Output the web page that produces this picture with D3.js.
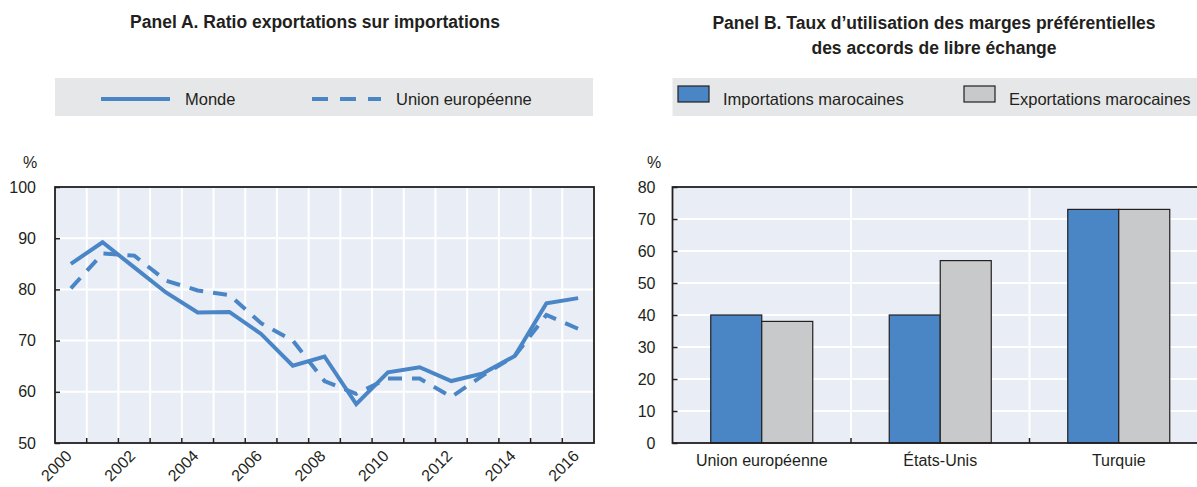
<!DOCTYPE html>
<html>
<head>
<meta charset="utf-8">
<script src="https://cdn.jsdelivr.net/npm/d3@7"></script>
<style>
  body { margin: 0; background: #fff; }
  svg { display: block; }
</style>
</head>
<body>
<svg id="chart" width="1197" height="487"></svg>
<script>
// Panel A data: ratio exports / imports (%)
const years = d3.range(2000, 2017);
const monde = [85.0, 89.2, 84.3, 79.4, 75.5, 75.6, 71.3, 65.1, 66.9, 57.6, 63.8, 64.8, 62.1, 63.6, 67.0, 77.3, 78.3];
const unionEuropeenne = [80.2, 87.0, 86.6, 81.7, 79.8, 78.9, 73.4, 70.0, 62.1, 59.6, 62.6, 62.6, 59.0, 63.2, 67.0, 75.0, 72.3];
const yTicksA = [50, 60, 70, 80, 90, 100];

// Panel B data: utilisation rate of preferential margins (%)
const partners = ["Union européenne", "États-Unis", "Turquie"];
const importations = [40, 40, 73];
const exportations = [38, 57, 73];
const yTicksB = [0, 10, 20, 30, 40, 50, 60, 70, 80];

const FONT = "'Liberation Sans', Arial, sans-serif";
const BLUE = "#4a86c6";
const GREY = "#c8c9cb";
const PLOT_BG = "#e9edf5";
const LEGEND_BG = "#e6e7e9";
const INK = "#231f20";
const TICK_FS = "16px";

const svg = d3.select("#chart").style("font-family", FONT);

// ---------- Panel A ----------
const A = { left: 55, right: 594, top: 187, bottom: 443 };

svg.append("text")
  .attr("x", 315).attr("y", 28)
  .attr("text-anchor", "middle")
  .attr("font-weight", "bold").attr("font-size", "17.5px").attr("fill", INK)
  .text("Panel A. Ratio exportations sur importations");

svg.append("rect")
  .attr("x", A.left).attr("y", 78).attr("width", A.right - A.left - 1).attr("height", 38)
  .attr("fill", LEGEND_BG);

const legendA = [
  { name: "Monde", x: 101, dash: null },
  { name: "Union européenne", x: 312, dash: "16,12" }
];
legendA.forEach(d => {
  svg.append("line")
    .attr("x1", d.x).attr("x2", d.x + 69).attr("y1", 99).attr("y2", 99)
    .attr("stroke", BLUE).attr("stroke-width", 4)
    .attr("stroke-dasharray", d.dash);
  svg.append("text")
    .attr("x", d.x + 84).attr("y", 105)
    .attr("font-size", "16.5px").attr("fill", INK)
    .text(d.name);
});

const xA = d3.scaleBand().domain(years).range([A.left, A.right]);
const yA = d3.scaleLinear().domain([50, 100]).range([A.bottom, A.top]);

const gA = svg.append("g");
gA.append("rect")
  .attr("x", A.left).attr("y", A.top)
  .attr("width", A.right - A.left).attr("height", A.bottom - A.top)
  .attr("fill", PLOT_BG);

gA.selectAll("line.hgrid")
  .data(yTicksA.slice(1, -1))
  .join("line").attr("class", "hgrid")
  .attr("x1", A.left).attr("x2", A.right)
  .attr("y1", d => yA(d)).attr("y2", d => yA(d))
  .attr("stroke", "#fff").attr("stroke-width", 2);

gA.selectAll("line.vgrid")
  .data(years.slice(1))
  .join("line").attr("class", "vgrid")
  .attr("x1", d => xA(d)).attr("x2", d => xA(d))
  .attr("y1", A.top).attr("y2", A.bottom)
  .attr("stroke", "#fff").attr("stroke-width", 2);

// inward tick marks at band boundaries
gA.selectAll("line.xtick")
  .data(years.slice(1))
  .join("line").attr("class", "xtick")
  .attr("x1", d => xA(d)).attr("x2", d => xA(d))
  .attr("y1", A.bottom - 5).attr("y2", A.bottom)
  .attr("stroke", INK).attr("stroke-width", 1.5);

const line = d3.line()
  .x((d, i) => xA(years[i]) + xA.bandwidth() / 2)
  .y(d => yA(d));

gA.append("path").datum(unionEuropeenne)
  .attr("d", line).attr("fill", "none")
  .attr("stroke", BLUE).attr("stroke-width", 4)
  .attr("stroke-dasharray", "14,10");

gA.append("path").datum(monde)
  .attr("d", line).attr("fill", "none")
  .attr("stroke", BLUE).attr("stroke-width", 4)
  .attr("stroke-linejoin", "miter");

const yAxisA = gA.append("g")
  .attr("transform", `translate(${A.left},0)`)
  .call(d3.axisLeft(yA).tickValues(yTicksA).tickSize(-5).tickPadding(19));
yAxisA.select(".domain").remove();
yAxisA.selectAll("line").attr("stroke", INK).attr("stroke-width", 1.5);
yAxisA.selectAll("text").attr("font-size", TICK_FS).attr("fill", INK).attr("font-family", FONT);

gA.selectAll("text.year")
  .data(years.filter(y => y % 2 === 0))
  .join("text").attr("class", "year")
  .attr("transform", d => `translate(${xA(d) + xA.bandwidth() / 2 - 2},${A.bottom + 10}) rotate(-45)`)
  .attr("text-anchor", "end").attr("dy", "0.35em")
  .attr("font-size", TICK_FS).attr("fill", INK)
  .text(d => d);

gA.append("rect")
  .attr("x", A.left).attr("y", A.top)
  .attr("width", A.right - A.left).attr("height", A.bottom - A.top)
  .attr("fill", "none").attr("stroke", INK).attr("stroke-width", 1.8);

svg.append("text")
  .attr("x", 30).attr("y", 168).attr("text-anchor", "middle")
  .attr("font-size", TICK_FS).attr("fill", INK).text("%");

// ---------- Panel B ----------
const B = { left: 672.5, right: 1208, top: 187, bottom: 443 };

svg.append("text")
  .attr("x", 934).attr("text-anchor", "middle")
  .attr("font-weight", "bold").attr("font-size", "17.5px").attr("fill", INK)
  .selectAll("tspan")
  .data(["Panel B. Taux d’utilisation des marges préférentielles", "des accords de libre échange"])
  .join("tspan")
  .attr("x", 934).attr("y", (d, i) => 28.5 + i * 25.5)
  .text(d => d);

svg.append("rect")
  .attr("x", B.left).attr("y", 78).attr("width", 1197 - B.left).attr("height", 38)
  .attr("fill", LEGEND_BG);

const legendB = [
  { name: "Importations marocaines", x: 678, fill: BLUE },
  { name: "Exportations marocaines", x: 964, fill: GREY }
];
legendB.forEach(d => {
  svg.append("rect")
    .attr("x", d.x).attr("y", 86).attr("width", 31).attr("height", 16)
    .attr("fill", d.fill).attr("stroke", INK).attr("stroke-width", 1.2);
  svg.append("text")
    .attr("x", d.x + 45).attr("y", 105)
    .attr("font-size", "16.5px").attr("fill", INK)
    .text(d.name);
});

const x0 = d3.scaleBand().domain(partners).range([B.left, B.right]);
const x1 = d3.scaleBand().domain(["imp", "exp"]).range([0, x0.bandwidth()]).paddingOuter(0.75);
const yB = d3.scaleLinear().domain([0, 80]).range([B.bottom, B.top]);

const gB = svg.append("g");
gB.append("rect")
  .attr("x", B.left).attr("y", B.top)
  .attr("width", B.right - B.left).attr("height", B.bottom - B.top)
  .attr("fill", PLOT_BG);

gB.selectAll("line.hgrid")
  .data(yTicksB.slice(1, -1))
  .join("line").attr("class", "hgrid")
  .attr("x1", B.left).attr("x2", B.right)
  .attr("y1", d => yB(d)).attr("y2", d => yB(d))
  .attr("stroke", "#fff").attr("stroke-width", 2);

gB.selectAll("line.vgrid")
  .data(partners.slice(1))
  .join("line").attr("class", "vgrid")
  .attr("x1", d => x0(d)).attr("x2", d => x0(d))
  .attr("y1", B.top).attr("y2", B.bottom)
  .attr("stroke", "#fff").attr("stroke-width", 2);

gB.selectAll("line.xtick")
  .data(partners.slice(1))
  .join("line").attr("class", "xtick")
  .attr("x1", d => x0(d)).attr("x2", d => x0(d))
  .attr("y1", B.bottom - 5).attr("y2", B.bottom)
  .attr("stroke", INK).attr("stroke-width", 1.5);

const barRows = partners.map((p, i) => [
  { partner: p, key: "imp", value: importations[i], fill: BLUE },
  { partner: p, key: "exp", value: exportations[i], fill: GREY }
]).flat();

gB.selectAll("rect.bar")
  .data(barRows)
  .join("rect").attr("class", "bar")
  .attr("x", d => x0(d.partner) + x1(d.key))
  .attr("width", x1.bandwidth())
  .attr("y", d => yB(d.value))
  .attr("height", d => yB(0) - yB(d.value))
  .attr("fill", d => d.fill)
  .attr("stroke", INK).attr("stroke-width", 1.2);

const yAxisB = gB.append("g")
  .attr("transform", `translate(${B.left},0)`)
  .call(d3.axisLeft(yB).tickValues(yTicksB).tickSize(-5).tickPadding(17));
yAxisB.select(".domain").remove();
yAxisB.selectAll("line").attr("stroke", INK).attr("stroke-width", 1.5);
yAxisB.selectAll("text").attr("font-size", TICK_FS).attr("fill", INK).attr("font-family", FONT);

gB.selectAll("text.cat")
  .data(partners)
  .join("text").attr("class", "cat")
  .attr("x", d => x0(d) + x0.bandwidth() / 2)
  .attr("y", 466)
  .attr("text-anchor", "middle")
  .attr("font-size", TICK_FS).attr("fill", INK)
  .text(d => d);

gB.append("rect")
  .attr("x", B.left).attr("y", B.top)
  .attr("width", B.right - B.left).attr("height", B.bottom - B.top)
  .attr("fill", "none").attr("stroke", INK).attr("stroke-width", 1.8);

svg.append("text")
  .attr("x", 654).attr("y", 168).attr("text-anchor", "middle")
  .attr("font-size", TICK_FS).attr("fill", INK).text("%");
</script>
</body>
</html>
